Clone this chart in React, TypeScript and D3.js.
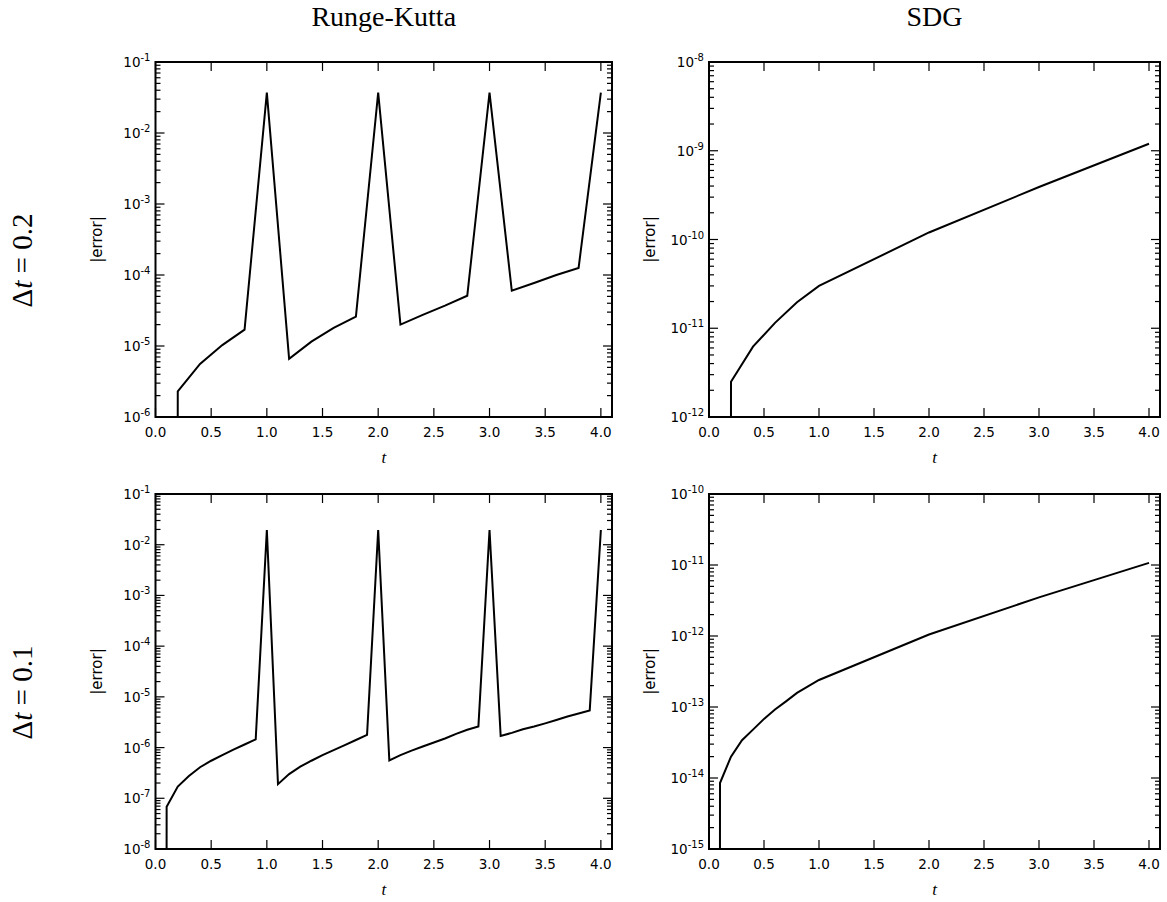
import React, { useEffect, useRef } from "react";
import * as d3 from "d3";

// ---------- data ----------
const tCoarse = [0, 0.2, 0.4, 0.6, 0.8, 1.0, 1.2, 1.4, 1.6, 1.8, 2.0, 2.2, 2.4, 2.6, 2.8, 3.0, 3.2, 3.4, 3.6, 3.8, 4.0];
const rkCoarse = [0, 2.3e-6, 5.6e-6, 1.03e-5, 1.7e-5, 3.7e-2, 6.6e-6, 1.15e-5, 1.8e-5, 2.6e-5, 3.7e-2, 2.0e-5, 2.75e-5, 3.7e-5, 5.1e-5, 3.7e-2, 6.0e-5, 7.7e-5, 1.0e-4, 1.26e-4, 3.7e-2];

const tSdgCoarse = [0, 0.2, 0.4, 0.6, 0.8, 1.0, 2.0, 3.0, 4.0];
const sdgCoarse = [0, 2.5e-12, 6.2e-12, 1.15e-11, 1.96e-11, 3.0e-11, 1.2e-10, 3.9e-10, 1.2e-9];

const tFine = [0, 0.1, 0.2, 0.3, 0.4, 0.5, 0.6, 0.7, 0.8, 0.9, 1.0, 1.1, 1.2, 1.3, 1.4, 1.5, 1.6, 1.7, 1.8, 1.9, 2.0, 2.1, 2.2, 2.3, 2.4, 2.5, 2.6, 2.7, 2.8, 2.9, 3.0, 3.1, 3.2, 3.3, 3.4, 3.5, 3.6, 3.7, 3.8, 3.9, 4.0];
const rkFine = [0, 6.8e-8, 1.7e-7, 2.75e-7, 4.1e-7, 5.5e-7, 7.1e-7, 9.1e-7, 1.15e-6, 1.45e-6, 1.95e-2,
  1.9e-7, 3.0e-7, 4.2e-7, 5.5e-7, 7.1e-7, 8.9e-7, 1.12e-6, 1.41e-6, 1.78e-6, 1.95e-2,
  5.6e-7, 7.1e-7, 8.7e-7, 1.05e-6, 1.26e-6, 1.51e-6, 1.86e-6, 2.24e-6, 2.6e-6, 1.95e-2,
  1.7e-6, 1.95e-6, 2.3e-6, 2.6e-6, 3.0e-6, 3.5e-6, 4.1e-6, 4.7e-6, 5.4e-6, 1.95e-2];

const tSdgFine = [0, 0.1, 0.2, 0.3, 0.4, 0.5, 0.6, 0.7, 0.8, 0.9, 1.0, 2.0, 3.0, 4.0];
const sdgFine = [0, 8.5e-15, 2.0e-14, 3.4e-14, 4.8e-14, 6.8e-14, 9.2e-14, 1.2e-13, 1.58e-13, 1.95e-13, 2.4e-13, 1.05e-12, 3.5e-12, 1.07e-11];

const xTicks = [0, 0.5, 1.0, 1.5, 2.0, 2.5, 3.0, 3.5, 4.0];
const columnTitles = ["Runge-Kutta", "SDG"];
const rowLabels = ["0.2", "0.1"];
const yAxisLabel = "|error|";
const xAxisLabel = "t";

// ---------- layout ----------
const W = 1167;
const H = 902;
const colX = [[155.5, 612], [709, 1160]];
const rowY = [[62, 417], [494, 849]];

const panels = [
  { col: 0, row: 0, t: tCoarse, v: rkCoarse, yExp: [-6, -1] },
  { col: 1, row: 0, t: tSdgCoarse, v: sdgCoarse, yExp: [-12, -8] },
  { col: 0, row: 1, t: tFine, v: rkFine, yExp: [-8, -1] },
  { col: 1, row: 1, t: tSdgFine, v: sdgFine, yExp: [-15, -10] },
];

export default function App() {
  const ref = useRef<SVGSVGElement>(null);
  useEffect(() => {
    const svg = d3.select(ref.current);
    svg.selectAll("*").remove();
    const tickFont = "DejaVu Sans";

    panels.forEach((p, i) => {
      const [x0, x1] = colX[p.col];
      const [y0, y1] = rowY[p.row];
      const x = d3.scaleLinear().domain([0, 4.1]).range([x0, x1]);
      const y = d3.scaleLog().domain([Math.pow(10, p.yExp[0]), Math.pow(10, p.yExp[1])]).range([y1, y0]);
      const g = svg.append("g");
      const clipId = "clip" + i;
      g.append("clipPath").attr("id", clipId).append("rect")
        .attr("x", x0).attr("y", y0).attr("width", x1 - x0).attr("height", y1 - y0);

      const pts = p.t.map((t, k) => [t, p.v[k] <= 0 ? 1e-300 : p.v[k]] as [number, number]);
      const line = d3.line<[number, number]>().x(d => x(d[0])).y(d => y(d[1]));
      g.append("path").attr("d", line(pts)!).attr("fill", "none").attr("stroke", "#000")
        .attr("stroke-width", 2).attr("stroke-linejoin", "miter").attr("clip-path", `url(#${clipId})`);

      // x ticks (top and bottom, inward)
      xTicks.forEach(t => {
        const xx = x(t);
        g.append("line").attr("x1", xx).attr("x2", xx).attr("y1", y1).attr("y2", y1 - 9).attr("stroke", "#000").attr("stroke-width", 1.2);
        g.append("line").attr("x1", xx).attr("x2", xx).attr("y1", y0).attr("y2", y0 + 9).attr("stroke", "#000").attr("stroke-width", 1.2);
        g.append("text").attr("x", xx).attr("y", y1 + 20).attr("text-anchor", "middle")
          .attr("font-family", tickFont).attr("font-size", 13.5).text(t.toFixed(1));
      });

      // y ticks
      for (let e = p.yExp[0]; e <= p.yExp[1]; e++) {
        const yy = y(Math.pow(10, e));
        g.append("line").attr("x1", x0).attr("x2", x0 + 9).attr("y1", yy).attr("y2", yy).attr("stroke", "#000").attr("stroke-width", 1.2);
        g.append("line").attr("x1", x1).attr("x2", x1 - 9).attr("y1", yy).attr("y2", yy).attr("stroke", "#000").attr("stroke-width", 1.2);
        const tx = g.append("text").attr("x", x0 - 5).attr("y", yy + 5).attr("text-anchor", "end")
          .attr("font-family", tickFont).attr("font-size", 13.5);
        tx.append("tspan").text("10");
        tx.append("tspan").attr("font-size", 10).attr("dy", -6).text("-" + Math.abs(e));
        if (e < p.yExp[1]) {
          for (let m = 2; m <= 9; m++) {
            const ym = y(m * Math.pow(10, e));
            g.append("line").attr("x1", x0).attr("x2", x0 + 5).attr("y1", ym).attr("y2", ym).attr("stroke", "#000").attr("stroke-width", 1.2);
            g.append("line").attr("x1", x1).attr("x2", x1 - 5).attr("y1", ym).attr("y2", ym).attr("stroke", "#000").attr("stroke-width", 1.2);
          }
        }
      }

      // frame
      g.append("rect").attr("x", x0).attr("y", y0).attr("width", x1 - x0).attr("height", y1 - y0)
        .attr("fill", "none").attr("stroke", "#000").attr("stroke-width", 2);

      // axis labels
      const yc = (y0 + y1) / 2;
      const lx = x0 - 54;
      g.append("text").attr("transform", `translate(${lx},${yc}) rotate(-90)`).attr("text-anchor", "middle")
        .attr("font-family", tickFont).attr("font-size", 15).text(yAxisLabel);
      g.append("text").attr("x", (x0 + x1) / 2).attr("y", y1 + 46).attr("text-anchor", "middle")
        .attr("font-family", "Liberation Serif").attr("font-style", "italic").attr("font-size", 17).text(xAxisLabel);
    });

    // column titles
    columnTitles.forEach((s, c) => {
      const [x0, x1] = colX[c];
      svg.append("text").attr("x", (x0 + x1) / 2).attr("y", 26).attr("text-anchor", "middle")
        .attr("font-family", "Liberation Serif").attr("font-size", 28).text(s);
    });

    // row labels
    rowLabels.forEach((s, r) => {
      const [y0, y1] = rowY[r];
      const yc = (y0 + y1) / 2 + 21;
      const t = svg.append("text").attr("transform", `translate(32,${yc}) rotate(-90)`).attr("text-anchor", "middle")
        .attr("font-family", "Liberation Serif").attr("font-size", 29);
      t.append("tspan").text("\u0394");
      t.append("tspan").attr("font-style", "italic").text("t");
      t.append("tspan").text(" = " + s);
    });
  }, []);

  return (
    <svg ref={ref} width={W} height={H} style={{ position: "absolute", left: 0, top: 0, background: "#fff" }} />
  );
}
